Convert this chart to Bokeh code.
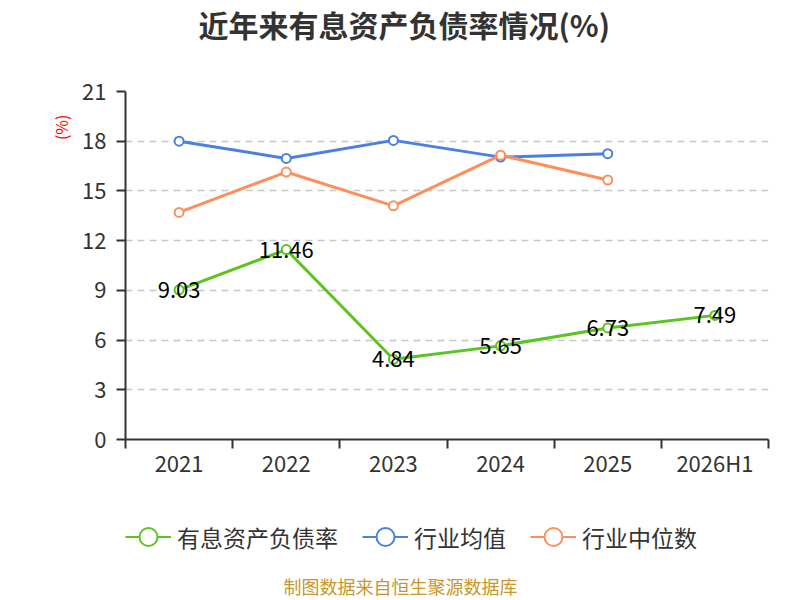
import numpy as np
from bokeh.plotting import figure
from bokeh.layouts import column
from bokeh.models import (ColumnDataSource, FixedTicker, Label, Legend, LegendItem,
                          LinearAxis, Range1d, Title)
from bokeh.core.properties import value
from bokeh.embed import file_html
from bokeh.resources import INLINE

years = ["2021", "2022", "2023", "2024", "2025", "2026H1"]
debt_ratio = [9.03, 11.46, 4.84, 5.65, 6.73, 7.49]
industry_mean = [18.0, 16.96, 18.05, 17.04, 17.25]
industry_median = [13.7, 16.14, 14.1, 17.16, 15.66]
y_ticks = [0, 3, 6, 9, 12, 15, 18, 21]
series_names = ["有息资产负债率", "行业均值", "行业中位数"]

FONT = "Noto Sans CJK SC"
GREEN = "#5bc41f"
BLUE = "#4b80e2"
ORANGE = "#ff8f5a"
COLORS = [GREEN, BLUE, ORANGE]

W = 800
H_MAIN = 480
H_FOOT = 120

p = figure(width=W, height=H_MAIN, output_backend="svg", toolbar_location=None,
           title=None, x_range=Range1d(0, len(years)), y_range=Range1d(0, 21),
           min_border_left=125, min_border_right=32,
           min_border_top=90, min_border_bottom=40)
p.outline_line_color = None
p.background_fill_color = "white"
p.border_fill_color = "white"

xs = np.arange(len(years)) + 0.5

# axes
p.xaxis.ticker = FixedTicker(ticks=list(xs), minor_ticks=list(range(len(years) + 1)))
p.xaxis.major_label_overrides = {float(x): y for x, y in zip(xs, years)}
p.xaxis.major_tick_out = 0
p.xaxis.major_tick_in = 0
p.xaxis.minor_tick_out = 9
p.xaxis.minor_tick_in = 0
p.xaxis.minor_tick_line_color = "#333333"
p.xaxis.minor_tick_line_width = 2
p.xaxis.major_label_standoff = -3
p.yaxis.ticker = FixedTicker(ticks=y_ticks)
p.yaxis.minor_tick_line_color = None
p.yaxis.major_tick_out = 9
p.yaxis.major_tick_in = 0
p.yaxis.major_label_standoff = 10
for ax in (p.xaxis, p.yaxis):
    ax.axis_line_color = "#333333"
    ax.axis_line_width = 2
    ax.major_tick_line_color = "#333333"
    ax.major_tick_line_width = 2
    ax.major_label_text_font = FONT
    ax.major_label_text_font_size = "22px"
    ax.major_label_text_color = "#333333"

p.xgrid.grid_line_color = None
p.ygrid.ticker = FixedTicker(ticks=y_ticks[1:])
p.ygrid.grid_line_color = "#c8c8c8"
p.ygrid.grid_line_dash = "7 5"
p.ygrid.grid_line_width = 1.5

# series
g_src = ColumnDataSource(dict(x=xs, y=debt_ratio, t=[f"{v:.2f}" for v in debt_ratio]))
b_src = ColumnDataSource(dict(x=xs[:len(industry_mean)], y=industry_mean))
o_src = ColumnDataSource(dict(x=xs[:len(industry_median)], y=industry_median))
sources = [g_src, b_src, o_src]

for src, col in ((b_src, BLUE), (o_src, ORANGE), (g_src, GREEN)):
    p.line("x", "y", source=src, line_color=col, line_width=3)
    p.scatter("x", "y", source=src, size=9, marker="circle", fill_color="white",
              line_color=col, line_width=2)

p.text("x", "y", text="t", source=g_src, text_align="center", text_baseline="middle",
       text_font=value(FONT), text_font_size="22px", text_color="#000000")


def spacer(px, tick):
    # an invisible axis used only to reserve space in a side panel
    return LinearAxis(ticker=FixedTicker(ticks=[tick]), major_label_overrides={tick: ""},
                      axis_line_color=None, major_tick_line_color=None,
                      minor_tick_line_color=None, major_tick_out=px, major_tick_in=0,
                      major_label_standoff=0, major_label_text_font_size="1px")


# top: spacer then title (outermost)
p.add_layout(spacer(45, 3), "above")
p.add_layout(Title(text="近年来有息资产负债率情况(%)", align="left", offset=73,
                   vertical_align="middle", standoff=0, text_font=FONT,
                   text_font_size="30px", text_font_style="bold",
                   text_color="#333333"), "above")

# left: y axis, spacer, "(%)"
p.add_layout(spacer(6, 12), "left")
p.add_layout(Title(text="(%)", align="right", offset=23, vertical_align="middle",
                   standoff=0, text_font=FONT, text_font_size="16px",
                   text_font_style="normal", text_color="#ff0000"), "left")

# ---- legend + source note strip (series re-drawn outside its visible range) ----
q = figure(width=W, height=H_FOOT, output_backend="svg", toolbar_location=None,
           title=None, x_axis_location=None, y_axis_location=None,
           x_range=Range1d(0, 1), y_range=Range1d(-2, -1),
           min_border=0, min_border_left=0, min_border_right=0,
           min_border_top=0, min_border_bottom=0)
q.outline_line_color = None
q.background_fill_color = "white"
q.border_fill_color = "white"
q.grid.grid_line_color = None

items = []
for name, col, src in zip(series_names, COLORS, sources):
    r1 = q.line("x", "y", source=src, line_color=col, line_width=2)
    r2 = q.scatter("x", "y", source=src, size=18, marker="circle", fill_color="white",
                   line_color=col, line_width=2)
    items.append(LegendItem(label=name, renderers=[r1, r2]))
legend = Legend(items=items, orientation="horizontal", location=(0, 41),
                glyph_width=46, glyph_height=45, label_height=45, label_standoff=6,
                spacing=24, padding=0, margin=0, border_line_color=None,
                background_fill_alpha=0, label_text_font=FONT,
                label_text_font_size="23px", label_text_color="#333333")
q.add_layout(legend, "center")

q.add_layout(Label(x=400 - 125, y=15, x_units="screen", y_units="screen",
                   text="制图数据来自恒生聚源数据库", text_font=FONT,
                   text_font_size="18px", text_color="#c8962a",
                   text_align="center", text_baseline="middle"))

layout = column(p, q, spacing=0)
open("out.html", "w").write(file_html(layout, INLINE))
